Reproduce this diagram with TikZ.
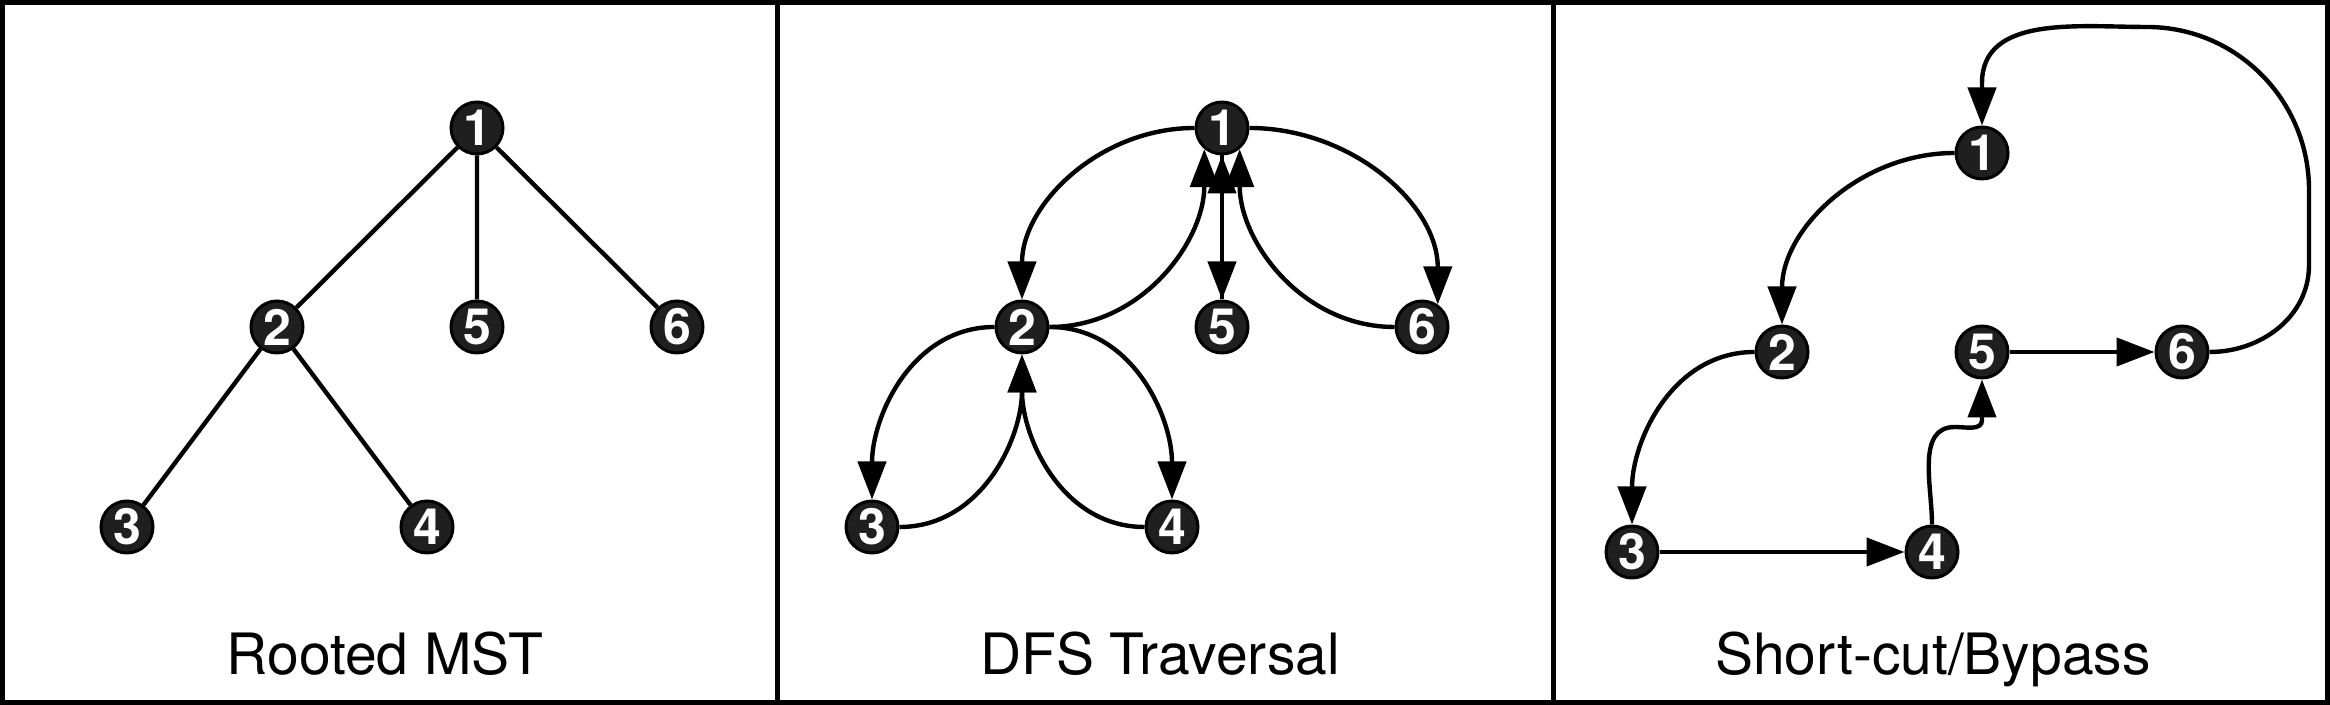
\documentclass[tikz,border=0pt]{standalone}
\usepackage{fontspec}
\setmainfont{TeX Gyre Heros}
\usetikzlibrary{arrows.meta}
\begin{document}
\begin{tikzpicture}[x=0.5pt,y=0.5pt,
  vtx/.style={circle,fill=black!88,draw=black,line width=1.5pt,minimum size=26pt,inner sep=0pt,text=white,font=\fontsize{25}{25}\selectfont\bfseries},
  edge/.style={line width=2.2pt},
  arr/.style={line width=2.2pt,-{Triangle[length=19pt,width=14pt]}},
  captext/.style={anchor=base,font=\fontsize{28.5}{30}\selectfont},
  frame/.style={line width=2.5pt}]
\useasboundingbox (0,0) rectangle (2330,705);
% frame and dividers
\draw[frame] (2.5,2.5) rectangle (2327.5,702.5);
\coordinate (d1b) at (777.5,0); \coordinate (d1t) at (777.5,705);
\coordinate (d2b) at (1553,0); \coordinate (d2t) at (1553,705);
\draw[frame] (d1b) -- (d1t);
\draw[frame] (d2b) -- (d2t);

% Panel 1: Rooted MST
\node[vtx] (a1) at (477,577) {1};
\node[vtx] (a2) at (277,378) {2};
\node[vtx] (a5) at (477,378) {5};
\node[vtx] (a6) at (677,378) {6};
\node[vtx] (a3) at (127,178) {3};
\node[vtx] (a4) at (427,178) {4};
\draw[edge] (a1)--(a2) (a1)--(a5) (a1)--(a6) (a2)--(a3) (a2)--(a4);
\node[captext] (c1) at (385,30) {Rooted MST};

% Panel 2: DFS Traversal
\node[vtx] (b1) at (1222,577) {1};
\node[vtx] (b2) at (1022,378) {2};
\node[vtx] (b5) at (1222,378) {5};
\node[vtx] (b6) at (1422,378) {6};
\node[vtx] (b3) at (872,178) {3};
\node[vtx] (b4) at (1172,178) {4};
\draw[arr] (b1.west) to[out=180,in=90] (b2.north);
\draw[arr] (b2.east) to[out=0,in=-90] (b1.-130);
\draw[arr] (b1) -- (b5);
\draw[arr] (b5) -- (b1);
\draw[arr] (b1.east) to[out=0,in=90] (b6.55);
\draw[arr] (b6.west) to[out=180,in=-90] (b1.-50);
\draw[arr] (b2.west) to[out=180,in=90] (b3.north);
\draw[arr] (b3.east) to[out=0,in=-90] (b2.south);
\draw[arr] (b2.east) to[out=0,in=90] (b4.north);
\draw[arr] (b4.west) to[out=180,in=-90] (b2.south);
\node[captext] (c2) at (1160,30) {DFS Traversal};

% Panel 3: Short-cut/Bypass
\node[vtx] (s1) at (1982,552) {1};
\node[vtx] (s2) at (1782,353) {2};
\node[vtx] (s5) at (1982,353) {5};
\node[vtx] (s6) at (2182,353) {6};
\node[vtx] (s3) at (1632,153) {3};
\node[vtx] (s4) at (1932,153) {4};
\coordinate (k1) at (1955,278);
\coordinate (k2) at (1982,285);
\coordinate (r1) at (2309,440);
\coordinate (r2) at (2309,515);
\coordinate (r3) at (2147,678);
\coordinate (r4) at (1982,622);
\draw[arr] (s1.west) to[out=180,in=90] (s2.north);
\draw[arr] (s2.west) to[out=180,in=90] (s3.north);
\draw[arr] (s3) -- (s4);
\draw[arr] (s4.north) to[out=90,in=180] (k1) to[out=0,in=-90] (k2) -- (s5.south);
\draw[arr] (s5) -- (s6);
\draw[arr] (s6.east) to[out=0,in=-90] (r1) -- (r2) to[out=90,in=0] (r3) to[out=180,in=90] (r4) -- (s1.north);
\node[captext] (c3) at (1933,30) {Short-cut/Bypass};
\end{tikzpicture}
\end{document}
